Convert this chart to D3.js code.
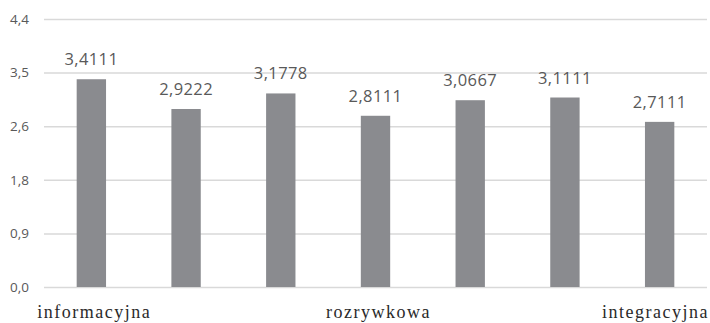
<!DOCTYPE html>
<html>
<head>
<meta charset="utf-8">
<script src="https://cdn.jsdelivr.net/npm/d3@7"></script>
<style>
  html, body { margin: 0; padding: 0; background: #fff; }
  svg { display: block; }
</style>
</head>
<body>
<svg id="chart" width="710" height="323"></svg>
<script>
// Seven bars; only every third category carries a visible name
const categories = ["informacyjna", "", "", "rozrywkowa", "", "", "integracyjna"];
const values = [3.4111, 2.9222, 3.1778, 2.8111, 3.0667, 3.1111, 2.7111];
const valueLabels = ["3,4111", "2,9222", "3,1778", "2,8111", "3,0667", "3,1111", "2,7111"];
const tickValues = [0, 0.88, 1.76, 2.64, 3.52, 4.4];
const tickLabels = ["0,0", "0,9", "1,8", "2,6", "3,5", "4,4"];

const W = 710, H = 323;
const m = { top: 19, right: 3, bottom: 36, left: 44 };

const svg = d3.select("#chart");

const x = d3.scaleBand()
  .domain(d3.range(values.length))
  .range([m.left, W - m.right])
  .paddingInner(0.69)
  .paddingOuter(0.345);

const y = d3.scaleLinear()
  .domain([0, 4.4])
  .range([H - m.bottom, m.top]);

// horizontal gridlines with tick labels
const yAxis = d3.axisLeft(y)
  .tickValues(tickValues)
  .tickSize(-(W - m.left - m.right))
  .tickPadding(15)
  .tickFormat((d, i) => tickLabels[i]);

const gy = svg.append("g")
  .attr("transform", `translate(${m.left},0)`)
  .call(yAxis);
gy.select(".domain").remove();
gy.selectAll(".tick line").attr("stroke", "#d9d9d9").attr("stroke-width", 1.5);
gy.selectAll(".tick text")
  .attr("fill", "#595959")
  .style("font-family", "'Open Sans', sans-serif")
  .style("font-size", "13.5px");

// bars
svg.append("g").selectAll("rect")
  .data(values)
  .join("rect")
  .attr("x", (d, i) => x(i))
  .attr("width", x.bandwidth())
  .attr("y", d => y(d))
  .attr("height", d => y(0) - y(d))
  .attr("fill", "#8a8b8f");

// value labels above bars
svg.append("g").selectAll("text")
  .data(values)
  .join("text")
  .attr("x", (d, i) => x(i) + x.bandwidth() / 2)
  .attr("y", d => y(d) - 14)
  .attr("text-anchor", "middle")
  .attr("fill", "#595959")
  .style("font-family", "'Open Sans', sans-serif")
  .style("font-size", "16.5px")
  .style("letter-spacing", "0.4px")
  .text((d, i) => valueLabels[i]);

// category names; the last one is kept inside the right edge
svg.append("g").selectAll("text")
  .data(categories)
  .join("text")
  .attr("x", (d, i) => i === categories.length - 1 ? W - 1 : x(i) + x.bandwidth() / 2 + 3)
  .attr("y", 318)
  .attr("text-anchor", (d, i) => i === categories.length - 1 ? "end" : "middle")
  .attr("fill", "#2a2a2a")
  .style("font-family", "'Liberation Serif', serif")
  .style("font-size", "18px")
  .style("letter-spacing", "1.5px")
  .text(d => d);
</script>
</body>
</html>
